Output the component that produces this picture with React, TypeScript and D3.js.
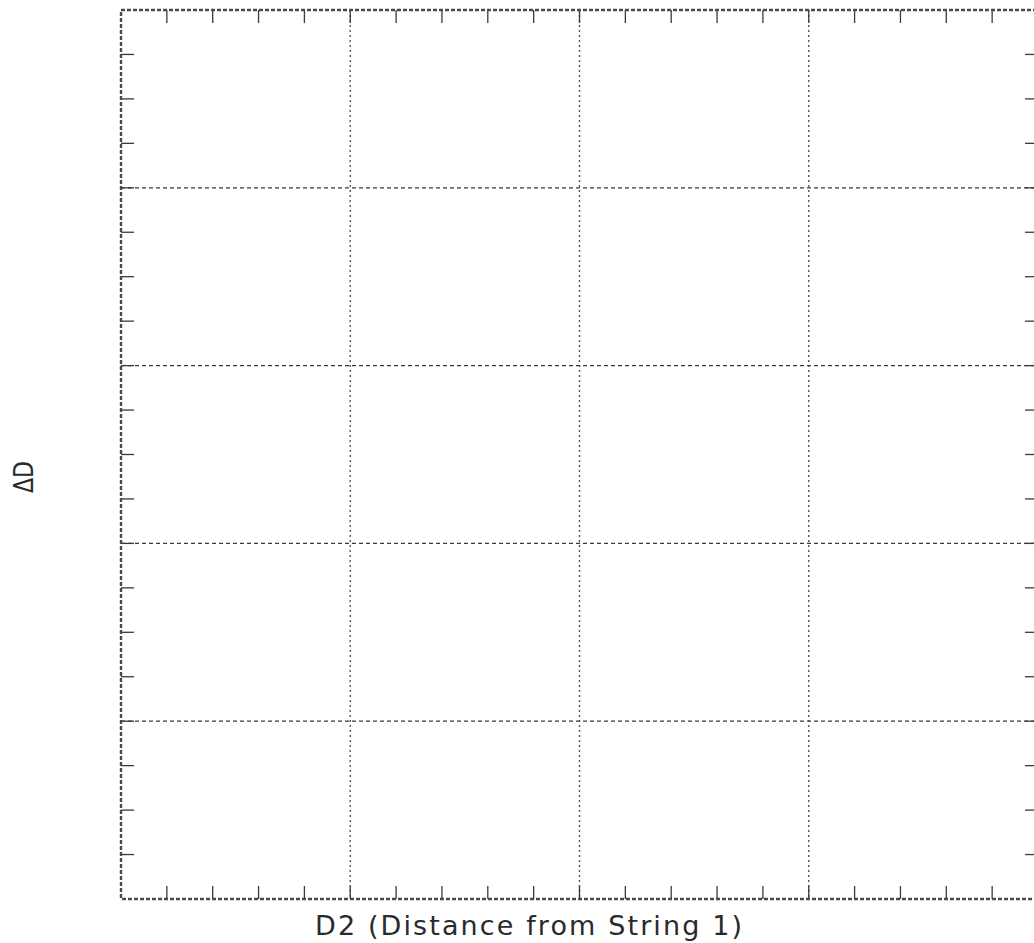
import React from 'react';
import * as d3 from 'd3';

// axis extents and tick layout
const xDomain = [0, 4];
const yDomain = [0, 5];
const xMajorTicks = [1, 2, 3];
const yMajorTicks = [1, 2, 3, 4];
const xMinorStep = 0.2;
const yMinorStep = 0.25;
const xLabel = 'D2 (Distance from String 1)';
const yLabel = 'ΔD';

const W = 1034;
const H = 943;
const margin = { top: 10, left: 121, right: 1038, bottom: 899 };
const tickLen = 13;
const ink = '#3a3a3a';
const font = '"DejaVu Sans", sans-serif';

export default function App() {
  const x = d3.scaleLinear().domain(xDomain).range([margin.left, margin.right]);
  const y = d3.scaleLinear().domain(yDomain).range([margin.bottom, margin.top]);

  const xMinor = d3.range(xDomain[0] + xMinorStep, xDomain[1] - 1e-9, xMinorStep);
  const yMinor = d3.range(yDomain[0] + yMinorStep, yDomain[1] - 1e-9, yMinorStep);

  return (
    <svg width={W} height={H} style={{ position: 'absolute', left: 0, top: 0, background: '#fff' }}>
      {/* grid: dotted verticals, dashed horizontals */}
      {xMajorTicks.map((t) => (
        <line key={'gx' + t} x1={x(t)} x2={x(t)} y1={margin.top} y2={margin.bottom}
          stroke="#555" strokeWidth={1.4} strokeDasharray="2 3" />
      ))}
      {yMajorTicks.map((t) => (
        <line key={'gy' + t} x1={margin.left} x2={margin.right} y1={y(t)} y2={y(t)}
          stroke={ink} strokeWidth={1.2} strokeDasharray="4 3" />
      ))}

      {/* minor ticks, mirrored on all four sides */}
      {xMinor.map((t, i) => (
        <g key={'tx' + i}>
          <line x1={x(t)} x2={x(t)} y1={margin.bottom} y2={margin.bottom - tickLen} stroke={ink} strokeWidth={1.3} />
          <line x1={x(t)} x2={x(t)} y1={margin.top} y2={margin.top + tickLen} stroke={ink} strokeWidth={1.3} />
        </g>
      ))}
      {yMinor.map((t, i) => (
        <g key={'ty' + i}>
          <line x1={margin.left} x2={margin.left + tickLen} y1={y(t)} y2={y(t)} stroke={ink} strokeWidth={1.3} />
          <line x1={margin.right} x2={margin.right - tickLen} y1={y(t)} y2={y(t)} stroke={ink} strokeWidth={1.3} />
        </g>
      ))}

      {/* frame */}
      <rect x={margin.left} y={margin.top} width={margin.right - margin.left} height={margin.bottom - margin.top}
        fill="none" stroke="#4a4a4a" strokeWidth={2.4} strokeDasharray="4 2" />

      {/* labels */}
      <text x={315} y={935} fontFamily={font} fontSize={27} fill="#2a2a2a"
        textLength={427} lengthAdjust="spacing" style={{ whiteSpace: 'pre' }}>{xLabel}</text>
      <text transform="translate(33,477) rotate(-90)" textAnchor="middle" fontFamily={font}
        fontSize={27} fill="#2a2a2a" textLength={32} lengthAdjust="spacingAndGlyphs">{yLabel}</text>
    </svg>
  );
}
